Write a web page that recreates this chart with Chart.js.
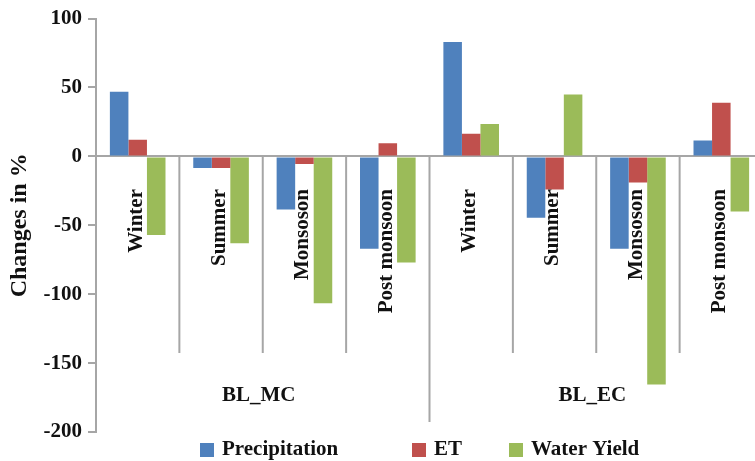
<!DOCTYPE html>
<html>
<head>
<meta charset="utf-8">
<script src="https://cdn.jsdelivr.net/npm/chart.js@4/dist/chart.umd.min.js"></script>
<style>
  html, body { margin: 0; padding: 0; background: #fff; overflow: hidden; }
  #wrap { width: 763px; height: 461px; position: relative; }
</style>
</head>
<body>
<div id="wrap"><canvas id="myChart"></canvas></div>
<script>
// seasons and scenario groups
let seasons = ['Winter', 'Summer', 'Monsoson', 'Post monsoon', 'Winter', 'Summer', 'Monsoson', 'Post monsoon'];
let groups = ['BL_MC', 'BL_EC'];
let seriesNames = ['Precipitation', 'ET', 'Water Yield'];
let yTicks = [100, 50, 0, -50, -100, -150, -200];

// changes in %
let precipitation = [47, -8.5, -38.5, -67, 83, -44.5, -67, 11.5];
let et = [12, -8.5, -5.5, 9.5, 16.5, -24, -19, 39];
let waterYield = [-57, -63, -106.5, -77, 23.5, 45, -165.5, -40];

let colors = ['#4F81BD', '#C0504D', '#9BBB59'];
let fontFam = '"Liberation Serif", "Times New Roman", serif';
let lineCol = '#a6a6a6';

//labels under the zero line, separators, group names and legend
let extras = {
    id: 'extras',
    afterDatasetsDraw(chart) {
        let ctx = chart.ctx;
        let x = chart.scales.x;
        let y = chart.scales.y;
        let zero = y.getPixelForValue(0);
        let half = (x.getPixelForValue(1) - x.getPixelForValue(0)) / 2;

        ctx.save();
        ctx.strokeStyle = lineCol;
        ctx.lineWidth = 2;
        for (var i = 1; i < seasons.length; i++) {
            let bx = x.getPixelForValue(i) - half;
            let bottom = (i % 4 == 0) ? 422 : 353;
            ctx.beginPath();
            ctx.moveTo(bx, zero);
            ctx.lineTo(bx, bottom);
            ctx.stroke();
        }

        ctx.fillStyle = '#111';
        ctx.font = 'bold 21px ' + fontFam;
        for (var s = 0; s < seasons.length; s++) {
            ctx.save();
            ctx.translate(x.getPixelForValue(s) - 1.5, 189);
            ctx.rotate(-Math.PI / 2);
            ctx.textAlign = 'right';
            ctx.textBaseline = 'middle';
            ctx.fillText(seasons[s], 0, 0);
            ctx.restore();
        }

        ctx.textAlign = 'center';
        ctx.textBaseline = 'middle';
        for (var g = 0; g < groups.length; g++) {
            let gx = (x.getPixelForValue(g * 4 + 1) + x.getPixelForValue(g * 4 + 2)) / 2;
            ctx.fillText(groups[g], gx - 4, 396);
        }

        // legend
        let legX = [200, 412, 509];
        ctx.font = 'bold 21px ' + fontFam;
        ctx.textAlign = 'left';
        for (var l = 0; l < seriesNames.length; l++) {
            ctx.fillStyle = colors[l];
            ctx.fillRect(legX[l], 443, 14, 14);
            ctx.fillStyle = '#111';
            ctx.fillText(seriesNames[l], legX[l] + 22, 450);
        }
        ctx.restore();
    }
};

let ctx = document.getElementById('myChart').getContext('2d');
let chart = new Chart(ctx, {
    type: 'bar',
    data: {
        labels: seasons,
        datasets: [
            { label: seriesNames[0], data: precipitation, backgroundColor: colors[0] },
            { label: seriesNames[1], data: et, backgroundColor: colors[1] },
            { label: seriesNames[2], data: waterYield, backgroundColor: colors[2] }
        ]
    },
    options: {
        responsive: true,
        maintainAspectRatio: false,
        animation: false,
        categoryPercentage: 0.667,
        barPercentage: 1.0,
        layout: { padding: { top: 10, bottom: 29, left: 0, right: 0 } },
        plugins: { legend: { display: false }, tooltip: { enabled: false } },
        scales: {
            x: { display: false },
            y: {
                min: -200,
                max: 100,
                afterBuildTicks: function (scale) {
                    scale.ticks = yTicks.map(v => ({ value: v }));
                },
                afterFit: function (scale) { scale.width = 96; },
                border: { display: true, color: lineCol, width: 2 },
                grid: {
                    color: c => (c.tick && c.tick.value === 0) ? lineCol : 'rgba(0,0,0,0)',
                    lineWidth: 2,
                    tickColor: lineCol,
                    tickLength: 8
                },
                ticks: {
                    color: '#111',
                    padding: 6,
                    font: { family: fontFam, size: 21, weight: 'bold' }
                },
                title: {
                    display: true,
                    text: 'Changes in %',
                    color: '#111',
                    padding: { top: 5, bottom: 0 },
                    font: { family: fontFam, size: 24, weight: 'bold' }
                }
            }
        }
    },
    plugins: [extras]
});
</script>
</body>
</html>
